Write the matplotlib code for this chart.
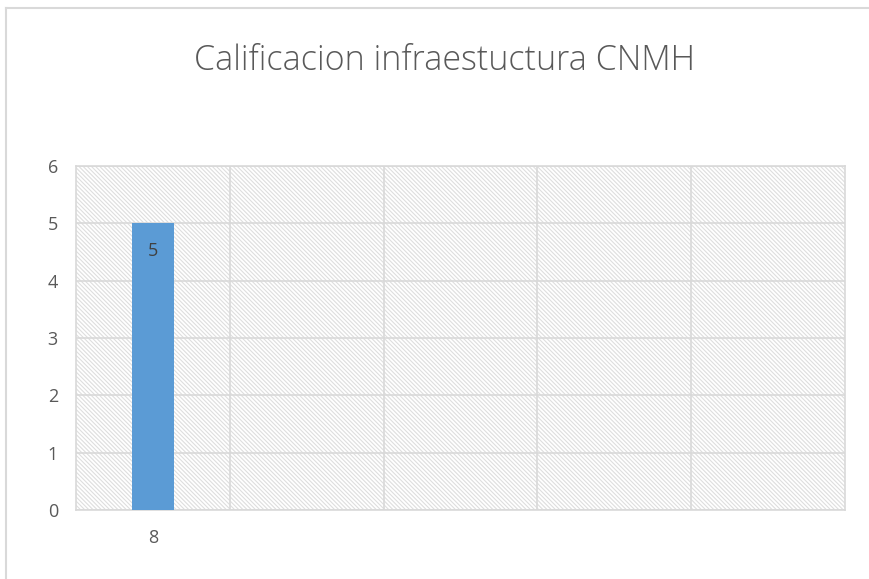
import matplotlib
matplotlib.use("Agg")
import matplotlib.pyplot as plt
from matplotlib.patches import Rectangle
from matplotlib.lines import Line2D

categories = ["8", "", "", "", ""]
values = [5, None, None, None, None]
title = "Calificacion infraestuctura CNMH"
yticks = [0, 1, 2, 3, 4, 5, 6]

plt.rcParams["hatch.linewidth"] = 0.8

W, H = 869, 579
fig = plt.figure(figsize=(W / 100, H / 100), dpi=100)
fig.patch.set_facecolor("white")

ax = fig.add_axes([76 / W, 1 - 510 / H, (845 - 76) / W, (510 - 166) / H])
ax.set_facecolor("white")

# hatched plot area background
bg = Rectangle((0, 0), 1, 1, transform=ax.transAxes, facecolor="white",
               edgecolor="#dedede", lw=0, hatch="\\" * 8, zorder=0)
ax.add_patch(bg)

n = len(categories)
xs = list(range(n))
for x, v in zip(xs, values):
    if v is not None:
        ax.bar(x, v, width=0.27, color="#5b9bd5", zorder=3)
        ax.text(x, v - 0.48, str(v), ha="center", va="center",
                fontsize=13, color="#404040", family="Open Sans", zorder=4)

ax.set_xlim(-0.5, n - 0.5)
ax.set_ylim(0, 6)
ax.set_yticks(yticks)
ax.set_yticklabels([str(t) for t in yticks], family="Open Sans", fontsize=13, color="#595959")
ax.set_xticks(xs)
ax.set_xticklabels(categories, family="Open Sans", fontsize=13, color="#595959")
ax.set_xticks([i + 0.5 for i in range(n - 1)], minor=True)
ax.tick_params(axis="both", which="both", length=0)
ax.tick_params(axis="y", pad=13)
ax.tick_params(axis="x", pad=14)

ax.grid(axis="y", which="major", color="#d9d9d9", lw=1.2, zorder=1)
ax.grid(axis="x", which="minor", color="#d9d9d9", lw=1.2, zorder=1)
ax.set_axisbelow(True)
for s in ax.spines.values():
    s.set_color("#d9d9d9")
    s.set_linewidth(1.2)

fig.text(444 / W, 1 - 61 / H, title, ha="center", va="center",
         fontsize=24.5, color="#595959", family="Open Sans", fontweight="light")

# outer chart frame (partially visible)
fig.add_artist(Line2D([6 / W, 6 / W], [0, 1 - 8 / H], transform=fig.transFigure,
                      color="#d9d9d9", lw=1.5))
fig.add_artist(Line2D([6 / W, 1], [1 - 8 / H, 1 - 8 / H], transform=fig.transFigure,
                      color="#d9d9d9", lw=1.5))

fig.savefig("out.png", dpi=100)
